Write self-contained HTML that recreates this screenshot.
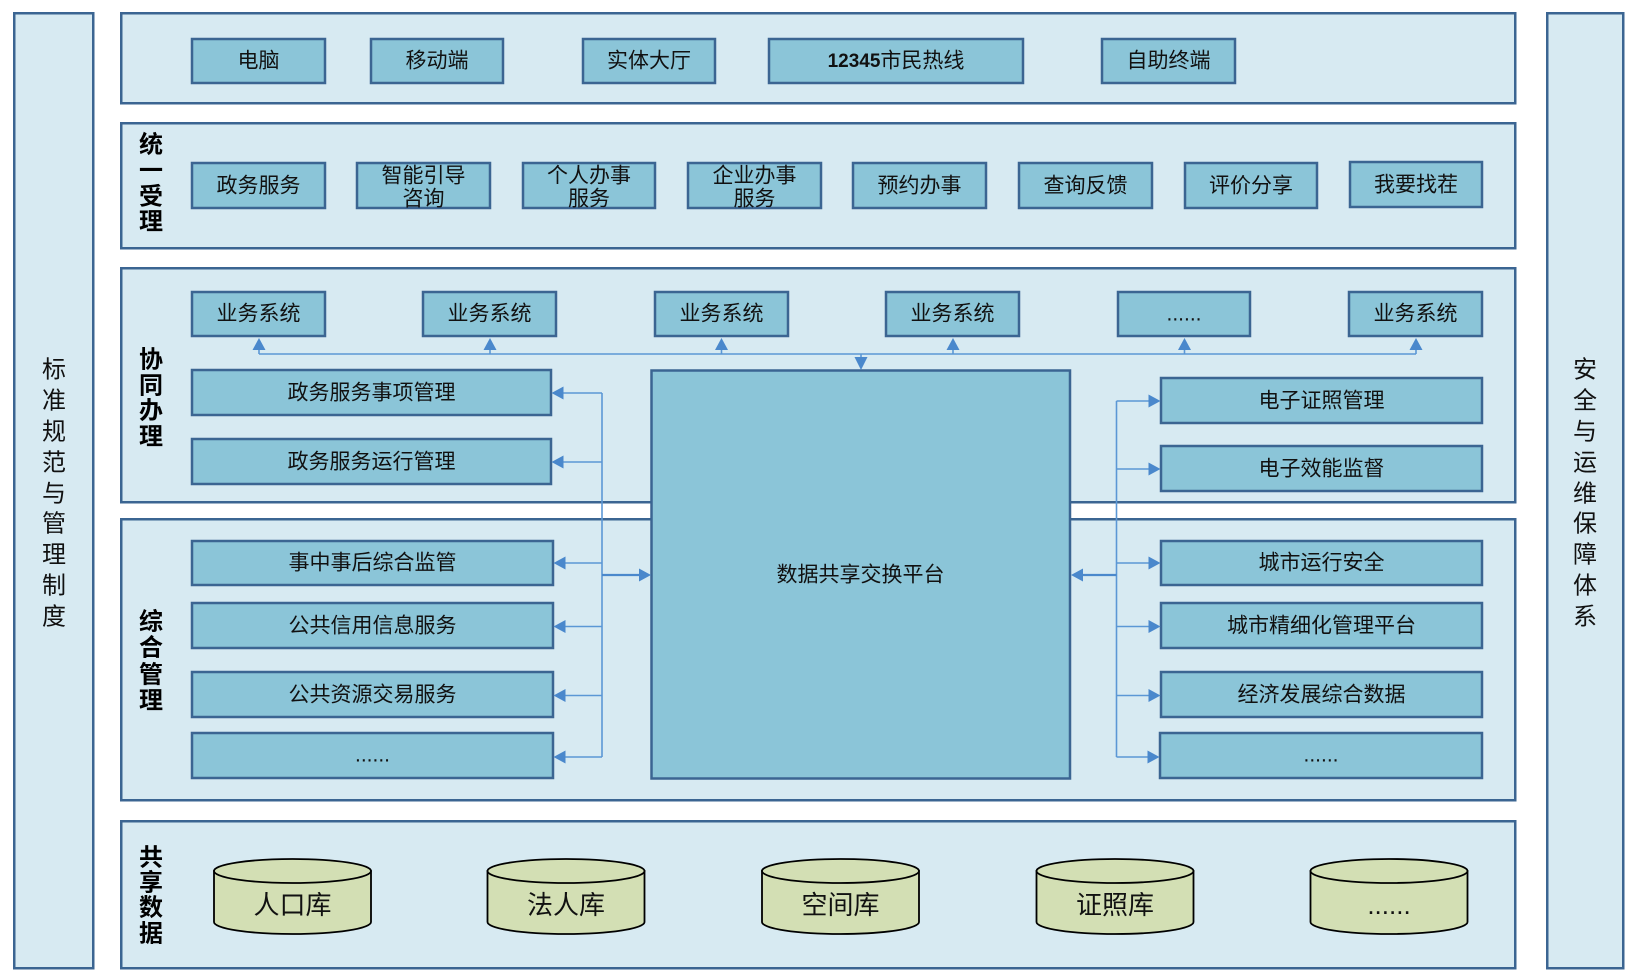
<!DOCTYPE html>
<html lang="zh">
<head>
<meta charset="utf-8">
<style>
html,body{margin:0;padding:0;background:#ffffff;}
body{width:1637px;height:980px;overflow:hidden;}
svg{display:block;}
text{font-family:"Liberation Sans","Noto Sans CJK SC","WenQuanYi Zen Hei",sans-serif;fill:#111;}
.bt{font-size:21px;text-anchor:middle;dominant-baseline:central;}
.lb{font-size:24px;font-weight:bold;text-anchor:middle;dominant-baseline:central;fill:#000;}
.sd{font-size:24px;text-anchor:middle;dominant-baseline:central;}
.cy{font-size:26px;text-anchor:middle;dominant-baseline:central;}
.pn{fill:#d7eaf2;stroke:#3b6592;stroke-width:2.5;}
.bx{fill:#8bc5d8;stroke:#3b6592;stroke-width:2.5;}
.ln{stroke:#5b97d5;stroke-width:1.6;fill:none;}
.ah{fill:#4a88cc;}
.cyl{fill:#d3dfb4;stroke:#000;stroke-width:1.8;}
</style>
</head>
<body>
<svg width="1637" height="980" viewBox="0 0 1637 980" xmlns="http://www.w3.org/2000/svg">
  <!-- side panels -->
  <rect class="pn" x="14.25" y="13.25" width="79" height="955"/>
  <rect class="pn" x="1547.25" y="13.25" width="76" height="955"/>

  <!-- main panels -->
  <rect class="pn" x="121.25" y="13.25" width="1394" height="90"/>
  <rect class="pn" x="121.25" y="123.25" width="1394" height="125"/>
  <rect class="pn" x="121.25" y="268.25" width="1394" height="234"/>
  <rect class="pn" x="121.25" y="519.25" width="1394" height="281"/>
  <rect class="pn" x="121.25" y="821.25" width="1394" height="147"/>

  <!-- side labels -->
  <g class="sd">
    <text class="sd" x="54" y="370">标</text>
    <text class="sd" x="54" y="401">准</text>
    <text class="sd" x="54" y="432">规</text>
    <text class="sd" x="54" y="463">范</text>
    <text class="sd" x="54" y="494">与</text>
    <text class="sd" x="54" y="524">管</text>
    <text class="sd" x="54" y="555">理</text>
    <text class="sd" x="54" y="586">制</text>
    <text class="sd" x="54" y="617">度</text>

    <text class="sd" x="1585" y="370">安</text>
    <text class="sd" x="1585" y="401">全</text>
    <text class="sd" x="1585" y="432">与</text>
    <text class="sd" x="1585" y="463">运</text>
    <text class="sd" x="1585" y="494">维</text>
    <text class="sd" x="1585" y="524">保</text>
    <text class="sd" x="1585" y="555">障</text>
    <text class="sd" x="1585" y="586">体</text>
    <text class="sd" x="1585" y="617">系</text>
  </g>

  <!-- section labels -->
  <text class="lb" x="151" y="145">统</text>
  <text class="lb" x="151" y="171">一</text>
  <text class="lb" x="151" y="197">受</text>
  <text class="lb" x="151" y="222">理</text>

  <text class="lb" x="151" y="360">协</text>
  <text class="lb" x="151" y="386">同</text>
  <text class="lb" x="151" y="411">办</text>
  <text class="lb" x="151" y="437">理</text>

  <text class="lb" x="151" y="622">综</text>
  <text class="lb" x="151" y="648">合</text>
  <text class="lb" x="151" y="675">管</text>
  <text class="lb" x="151" y="701">理</text>

  <text class="lb" x="151" y="858">共</text>
  <text class="lb" x="151" y="883">享</text>
  <text class="lb" x="151" y="908">数</text>
  <text class="lb" x="151" y="934">据</text>

  <!-- row 1 -->
  <rect class="bx" x="192" y="39" width="133" height="44"/>
  <text class="bt" x="258.5" y="61">电脑</text>
  <rect class="bx" x="371" y="39" width="132" height="44"/>
  <text class="bt" x="437" y="61">移动端</text>
  <rect class="bx" x="583" y="39" width="132" height="44"/>
  <text class="bt" x="649" y="61">实体大厅</text>
  <rect class="bx" x="769" y="39" width="254" height="44"/>
  <text class="bt" x="896" y="61"><tspan font-weight="bold" font-size="19">12345</tspan>市民热线</text>
  <rect class="bx" x="1102" y="39" width="133" height="44"/>
  <text class="bt" x="1168.5" y="61">自助终端</text>

  <!-- row 2 -->
  <rect class="bx" x="192" y="163" width="133" height="45"/>
  <text class="bt" x="258.5" y="186">政务服务</text>
  <rect class="bx" x="357" y="163" width="133" height="45"/>
  <text class="bt" x="423.5" y="176">智能引导</text>
  <text class="bt" x="423.5" y="199">咨询</text>
  <rect class="bx" x="523" y="163" width="132" height="45"/>
  <text class="bt" x="589" y="176">个人办事</text>
  <text class="bt" x="589" y="199">服务</text>
  <rect class="bx" x="688" y="163" width="133" height="45"/>
  <text class="bt" x="754.5" y="176">企业办事</text>
  <text class="bt" x="754.5" y="199">服务</text>
  <rect class="bx" x="853" y="163" width="133" height="45"/>
  <text class="bt" x="919.5" y="186">预约办事</text>
  <rect class="bx" x="1019" y="163" width="133" height="45"/>
  <text class="bt" x="1085.5" y="186">查询反馈</text>
  <rect class="bx" x="1185" y="163" width="132" height="45"/>
  <text class="bt" x="1251" y="186">评价分享</text>
  <rect class="bx" x="1350" y="162" width="132" height="45"/>
  <text class="bt" x="1416" y="185">我要找茬</text>

  <!-- row 3: business systems -->
  <rect class="bx" x="192" y="292" width="133" height="44"/>
  <text class="bt" x="258.5" y="314">业务系统</text>
  <rect class="bx" x="423" y="292" width="133" height="44"/>
  <text class="bt" x="489.5" y="314">业务系统</text>
  <rect class="bx" x="655" y="292" width="133" height="44"/>
  <text class="bt" x="721.5" y="314">业务系统</text>
  <rect class="bx" x="886" y="292" width="133" height="44"/>
  <text class="bt" x="952.5" y="314">业务系统</text>
  <rect class="bx" x="1118" y="292" width="132" height="44"/>
  <text class="bt" x="1184" y="314">......</text>
  <rect class="bx" x="1349" y="292" width="133" height="44"/>
  <text class="bt" x="1415.5" y="314">业务系统</text>

  <!-- top connector -->
  <line class="ln" x1="259" y1="354" x2="1416" y2="354"/>
  <g class="ln">
    <line x1="259" y1="349" x2="259" y2="354"/>
    <line x1="490" y1="349" x2="490" y2="354"/>
    <line x1="721.5" y1="349" x2="721.5" y2="354"/>
    <line x1="953" y1="349" x2="953" y2="354"/>
    <line x1="1184.5" y1="349" x2="1184.5" y2="354"/>
    <line x1="1416" y1="349" x2="1416" y2="354"/>
    <line x1="861" y1="354" x2="861" y2="358"/>
  </g>
  <polygon class="ah" points="259,338 252.5,350 265.5,350"/>
  <polygon class="ah" points="490,338 483.5,350 496.5,350"/>
  <polygon class="ah" points="721.5,338 715,350 728,350"/>
  <polygon class="ah" points="953,338 946.5,350 959.5,350"/>
  <polygon class="ah" points="1184.5,338 1178,350 1191,350"/>
  <polygon class="ah" points="1416,338 1409.5,350 1422.5,350"/>

  <!-- left mgmt boxes -->
  <rect class="bx" x="192" y="370" width="359" height="45"/>
  <text class="bt" x="371.5" y="393">政务服务事项管理</text>
  <rect class="bx" x="192" y="439" width="359" height="45"/>
  <text class="bt" x="371.5" y="462">政务服务运行管理</text>

  <rect class="bx" x="192" y="541" width="361" height="44"/>
  <text class="bt" x="372.5" y="563">事中事后综合监管</text>
  <rect class="bx" x="192" y="603" width="361" height="45"/>
  <text class="bt" x="372.5" y="626">公共信用信息服务</text>
  <rect class="bx" x="192" y="672" width="361" height="45"/>
  <text class="bt" x="372.5" y="695">公共资源交易服务</text>
  <rect class="bx" x="192" y="733" width="361" height="45"/>
  <text class="bt" x="372.5" y="755">......</text>

  <!-- right mgmt boxes -->
  <rect class="bx" x="1161" y="378" width="321" height="45"/>
  <text class="bt" x="1321.5" y="401">电子证照管理</text>
  <rect class="bx" x="1161" y="446" width="321" height="45"/>
  <text class="bt" x="1321.5" y="469">电子效能监督</text>

  <rect class="bx" x="1161" y="541" width="321" height="44"/>
  <text class="bt" x="1321.5" y="563">城市运行安全</text>
  <rect class="bx" x="1161" y="603" width="321" height="45"/>
  <text class="bt" x="1321.5" y="626">城市精细化管理平台</text>
  <rect class="bx" x="1161" y="672" width="321" height="45"/>
  <text class="bt" x="1321.5" y="695">经济发展综合数据</text>
  <rect class="bx" x="1160" y="733" width="322" height="45"/>
  <text class="bt" x="1321" y="755">......</text>

  <!-- center box -->
  <rect class="bx" x="651.5" y="370.5" width="418.5" height="408"/>
  <text class="bt" x="860.5" y="575">数据共享交换平台</text>

  <!-- down arrow into center -->
  <polygon class="ah" points="861,370 854.5,357 867.5,357"/>

  <!-- left connectors -->
  <line class="ln" x1="602" y1="393" x2="602" y2="757"/>
  <g class="ln">
    <line x1="563" y1="393" x2="602" y2="393"/>
    <line x1="563" y1="462" x2="602" y2="462"/>
    <line x1="565" y1="563" x2="602" y2="563"/>
    <line x1="565" y1="626.5" x2="602" y2="626.5"/>
    <line x1="565" y1="695.5" x2="602" y2="695.5"/>
    <line x1="565" y1="757" x2="602" y2="757"/>
  </g>
  <line x1="602" y1="575" x2="640" y2="575" stroke="#4a88cc" stroke-width="2.2"/>
  <polygon class="ah" points="551.5,393 563.5,386.5 563.5,399.5"/>
  <polygon class="ah" points="551.5,462 563.5,455.5 563.5,468.5"/>
  <polygon class="ah" points="553.5,563 565.5,556.5 565.5,569.5"/>
  <polygon class="ah" points="553.5,626.5 565.5,620 565.5,633"/>
  <polygon class="ah" points="553.5,695.5 565.5,689 565.5,702"/>
  <polygon class="ah" points="553.5,757 565.5,750.5 565.5,763.5"/>
  <polygon class="ah" points="651,575 639,568.5 639,581.5"/>

  <!-- right connectors -->
  <line class="ln" x1="1116.5" y1="401" x2="1116.5" y2="757"/>
  <g class="ln">
    <line x1="1116.5" y1="401" x2="1149" y2="401"/>
    <line x1="1116.5" y1="469" x2="1149" y2="469"/>
    <line x1="1116.5" y1="563" x2="1149" y2="563"/>
    <line x1="1116.5" y1="626.5" x2="1149" y2="626.5"/>
    <line x1="1116.5" y1="695.5" x2="1149" y2="695.5"/>
    <line x1="1116.5" y1="757" x2="1148" y2="757"/>
  </g>
  <line x1="1082" y1="575" x2="1116.5" y2="575" stroke="#4a88cc" stroke-width="2.2"/>
  <polygon class="ah" points="1160.5,401 1148.5,394.5 1148.5,407.5"/>
  <polygon class="ah" points="1160.5,469 1148.5,462.5 1148.5,475.5"/>
  <polygon class="ah" points="1160.5,563 1148.5,556.5 1148.5,569.5"/>
  <polygon class="ah" points="1160.5,626.5 1148.5,620 1148.5,633"/>
  <polygon class="ah" points="1160.5,695.5 1148.5,689 1148.5,702"/>
  <polygon class="ah" points="1159.5,757 1147.5,750.5 1147.5,763.5"/>
  <polygon class="ah" points="1071,575 1083,568.5 1083,581.5"/>

  <!-- cylinders -->
  <g>
    <path class="cyl" d="M214,871 L214,922 A78.5,12 0 0 0 371,922 L371,871 Z"/>
    <ellipse class="cyl" cx="292.5" cy="871" rx="78.5" ry="12"/>
    <text class="cy" x="292.5" y="905">人口库</text>

    <path class="cyl" d="M487.5,871 L487.5,922 A78.5,12 0 0 0 644.5,922 L644.5,871 Z"/>
    <ellipse class="cyl" cx="566" cy="871" rx="78.5" ry="12"/>
    <text class="cy" x="566" y="905">法人库</text>

    <path class="cyl" d="M762,871 L762,922 A78.5,12 0 0 0 919,922 L919,871 Z"/>
    <ellipse class="cyl" cx="840.5" cy="871" rx="78.5" ry="12"/>
    <text class="cy" x="840.5" y="905">空间库</text>

    <path class="cyl" d="M1036.5,871 L1036.5,922 A78.5,12 0 0 0 1193.5,922 L1193.5,871 Z"/>
    <ellipse class="cyl" cx="1115" cy="871" rx="78.5" ry="12"/>
    <text class="cy" x="1115" y="905">证照库</text>

    <path class="cyl" d="M1310.5,871 L1310.5,922 A78.5,12 0 0 0 1467.5,922 L1467.5,871 Z"/>
    <ellipse class="cyl" cx="1389" cy="871" rx="78.5" ry="12"/>
    <text class="cy" x="1389" y="905" font-size="22">......</text>
  </g>
</svg>
</body>
</html>
